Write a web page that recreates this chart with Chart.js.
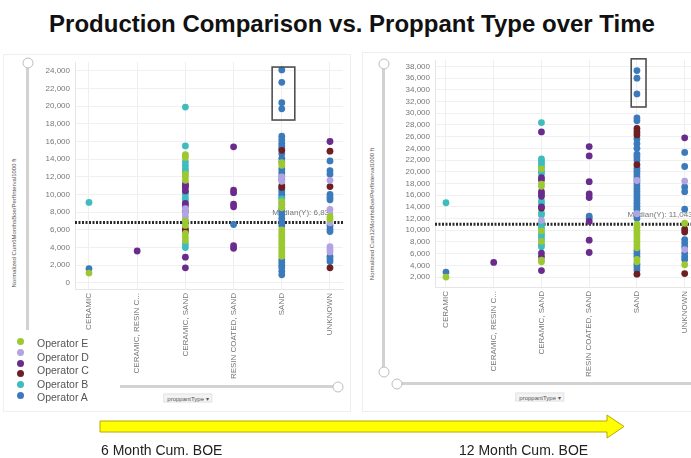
<!DOCTYPE html>
<html>
<head>
<meta charset="utf-8">
<script src="https://cdn.jsdelivr.net/npm/chart.js@4.4.1/dist/chart.umd.min.js"></script>
<style>
  body { margin: 0; width: 691px; height: 458px; overflow: hidden; background: #fff; position: relative; font-family: "Liberation Sans", Arial, sans-serif; }
  .abs { position: absolute; }
  #title { left: 352px; top: 12px; transform: translateX(-50%); font-weight: bold; font-size: 24px; line-height: 1; color: #111; white-space: nowrap; }
  .panel { border: 1px solid #efefef; }
  .chartBox { position: absolute; }
  .vline { position: absolute; width: 3px; background: #d2d2d2; }
  .hline { position: absolute; height: 3px; background: #d2d2d2; }
  .knob { position: absolute; width: 9px; height: 9px; border: 1.5px solid #bdbdbd; border-radius: 50%; background: #fff; transform: translate(-50%, -50%); }
  .ytitle { position: absolute; font-size: 6px; color: #555; white-space: nowrap; transform: translate(-50%, -50%) rotate(-90deg); }
  .xtitle { position: absolute; font-size: 6px; color: #555; background: #f3f3f3; border: 1px solid #e4e4e4; padding: 0 3px; transform: translate(-50%, -50%); white-space: nowrap; }
  #legendDots { left: 17px; top: 338px; }
  #legendDots div { width: 7px; height: 7px; border-radius: 50%; margin-bottom: 3.8px; }
  #legendLabels { left: 37px; top: 337px; font-size: 10.5px; line-height: 13.5px; color: #555; }
  .caption { position: absolute; top: 443px; font-size: 14px; line-height: 1; color: #222; white-space: nowrap; }
</style>
</head>
<body>
<div id="title" class="abs">Production Comparison vs. Proppant Type over Time</div>

<div class="abs panel" style="left:3px;top:54px;width:346px;height:356px;"></div>
<div class="abs panel" style="left:362px;top:52px;width:340px;height:358px;"></div>

<div class="chartBox" style="left:30px;top:50px;width:320px;height:334px;"><canvas id="chart6"></canvas></div>
<div class="chartBox" style="left:390px;top:48px;width:320px;height:334px;"><canvas id="chart12"></canvas></div>

<!-- range sliders of the original tool -->
<div class="vline" style="left:26px;top:63px;height:267px;"></div>
<div class="knob" style="left:27.5px;top:63px;"></div>
<div class="hline" style="left:120px;top:385px;width:218px;"></div>
<div class="knob" style="left:338px;top:386.5px;"></div>

<div class="vline" style="left:382px;top:64px;height:308px;"></div>
<div class="knob" style="left:383.5px;top:64px;"></div>
<div class="knob" style="left:383.5px;top:372px;"></div>
<div class="hline" style="left:397px;top:382px;width:300px;"></div>
<div class="knob" style="left:397px;top:383.5px;"></div>

<div class="ytitle" style="left:14px;top:223px;">Normalized Cum6MonthsBoe/PerfInterval1000 ft</div>
<div class="ytitle" style="left:372px;top:214px;">Normalized Cum12MonthsBoe/PerfInterval1000 ft</div>
<div class="xtitle" style="left:188px;top:398px;">proppantType &#9662;</div>
<div class="xtitle" style="left:540px;top:397px;">proppantType &#9662;</div>

<div id="legendDots" class="abs"></div>
<div id="legendLabels" class="abs"></div>

<svg class="abs" style="left:0;top:0;" width="691" height="458">
  <polygon points="100,421 607,421 607,415 624,426.5 607,438 607,432 100,432" fill="#ffff00" stroke="#b8a800" stroke-width="1"/>
</svg>
<div class="caption" style="left:101px;">6 Month Cum. BOE</div>
<div class="caption" style="left:459px;">12 Month Cum. BOE</div>

<script>
const categories = ['CERAMIC', 'CERAMIC, RESIN C...', 'CERAMIC, SAND', 'RESIN COATED, SAND', 'SAND', 'UNKNOWN'];

const operatorNames = ['Operator E', 'Operator D', 'Operator (other)', 'Operator C', 'Operator B', 'Operator A'];
const operatorColors = ['#9cc832', '#b4a3e2', '#6a2c8c', '#6e1f24', '#3fbcbd', '#3c7bbb'];

const legendLabels = ['Operator E', 'Operator D', 'Operator C', 'Operator B', 'Operator A'];

const yTicks6 = [0, 2000, 4000, 6000, 8000, 10000, 12000, 14000, 16000, 18000, 20000, 22000, 24000];
const yTicks12 = [2000, 4000, 6000, 8000, 10000, 12000, 14000, 16000, 18000, 20000, 22000, 24000, 26000, 28000, 30000, 32000, 34000, 36000, 38000];

// 6 month cum BOE, one inner list per category
const m6E = [[1100], [], [14500, 14200, 12300, 12000, 11600, 7000, 6500, 5600, 5200, 4800], [], [13600, 13300, 9200, 8800, 8500, 6000, 5700, 5400, 5100, 4800, 4500, 4200, 3900, 3600, 3300, 3000], [7500, 7200]];
const m6D = [[], [], [8400, 7900, 7500, 7100], [], [12000, 11500, 9100], [11600, 8300, 6800, 4100, 3800, 3500]];
const m6P = [[], [3600], [11200, 10800, 10400, 9000, 8700, 2900, 1700], [15400, 10500, 10200, 8900, 8600, 4200, 3900], [], [16000]];
const m6C = [[], [], [11000, 6100, 5800], [], [15000, 11000, 10800], [14900, 10900, 1700]];
const m6B = [[9100], [], [19900, 15500, 13700, 13300, 12900, 12600, 10000, 9600, 9300, 4400, 4000], [], [9500, 8900], []];
const m6A = [[1600], [], [10300, 8100, 6800], [6600], [24100, 22700, 20400, 19700, 16600, 16200, 15800, 15500, 15200, 14600, 14100, 13700, 12900, 12500, 12100, 11700, 10600, 10300, 10000, 9700, 8400, 8100, 7700, 7300, 6900, 6500, 2600, 2300, 2000, 1700, 1300, 900], [13800, 12700, 12300, 10000, 9700, 9400, 6500, 6100, 5800, 3000, 2700, 2400]];

// 12 month cum BOE
const m12E = [[2000], [], [20500, 17900, 17500, 9900, 8100, 4900, 4600], [], [11000, 10500, 10000, 9500, 9000, 8500, 8000, 7500, 7000, 5000, 4600], [11200, 4100]];
const m12D = [[], [], [11700], [], [18500, 12800], [18400, 6700]];
const m12P = [[], [4500], [26800, 19000, 18600, 16600, 16200, 15800, 14000, 6100, 5500, 3100], [24300, 22700, 18300, 16200, 15600, 11500, 8300, 6200], [], [25800]];
const m12C = [[], [], [13800], [], [27400, 26800, 26300, 21200, 2500], [10200, 9700, 2600]];
const m12B = [[14700], [], [28400, 22200, 21800, 21400, 20900, 20100, 19700, 15000, 14600, 13000, 12600, 11200, 10800, 10300, 9400, 9000, 8500, 7600, 7200], [], [12900], []];
const m12A = [[2850], [], [], [12400, 12000], [37300, 36000, 33300, 29200, 28700, 25600, 24800, 24000, 23000, 22500, 22000, 20600, 20100, 19600, 19100, 18600, 18100, 17600, 17100, 16600, 16100, 15600, 15100, 14600, 14100, 13600, 12500, 12000, 6500, 6000, 5500, 4200, 3700, 3200], [23300, 20900, 17400, 16600, 13600, 8400, 7800, 7200, 6100, 5500, 5000]];

const median6 = 6834;
const median12 = 11043;

// legend
const dotsBox = document.getElementById('legendDots');
operatorColors.forEach(c => {
    const d = document.createElement('div');
    d.style.background = c;
    dotsBox.appendChild(d);
});
document.getElementById('legendLabels').innerHTML = legendLabels.join('<br>');

function toPoints(byCategory) {
    return byCategory.flatMap((vals, i) => vals.map(v => ({ x: i, y: v })));
}

function overlay(median, label, box) {
    return {
        id: 'overlay',
        beforeDatasetsDraw(chart) {
            const { ctx, chartArea, scales: { x, y } } = chart;
            const py = y.getPixelForValue(median);
            ctx.save();
            ctx.strokeStyle = '#2a2a2a';
            ctx.lineWidth = 3;
            ctx.setLineDash([2, 1.5]);
            ctx.beginPath();
            ctx.moveTo(chartArea.left, py);
            ctx.lineTo(chartArea.right, py);
            ctx.stroke();
            ctx.setLineDash([]);
            ctx.fillStyle = '#777';
            ctx.font = '8px "Liberation Sans"';
            ctx.fillText(label, x.getPixelForValue(3.8), py - 7);
            ctx.restore();
        },
        afterDatasetsDraw(chart) {
            const { ctx, scales: { x, y } } = chart;
            const x0 = x.getPixelForValue(box[0]);
            const x1 = x.getPixelForValue(box[1]);
            const y0 = y.getPixelForValue(box[2]);
            const y1 = y.getPixelForValue(box[3]);
            ctx.save();
            ctx.strokeStyle = '#505050';
            ctx.lineWidth = 1.6;
            ctx.strokeRect(x0, y0, x1 - x0, y1 - y0);
            ctx.restore();
        }
    };
}

function buildChart(id, series, xMin, xMax, yMin, yMax, yTicks, median, label, box) {
    const datasets = series.map((s, i) => ({
        label: operatorNames[i],
        data: toPoints(s),
        backgroundColor: operatorColors[i],
        borderWidth: 0,
        pointRadius: 3.4
    }));

    new Chart(document.getElementById(id), {
        type: 'scatter',
        data: { datasets },
        options: {
            responsive: true,
            maintainAspectRatio: false,
            animation: false,
            layout: { padding: { top: 12, right: id === 'chart6' ? 7 : 11 } },
            scales: {
                x: {
                    type: 'linear',
                    min: xMin,
                    max: xMax,
                    afterFit: scale => { scale.height = 95; },
                    afterBuildTicks: scale => { scale.ticks = categories.map((c, i) => ({ value: i })); },
                    grid: { color: '#efefef', drawTicks: false },
                    border: { color: '#e6e6e6' },
                    ticks: {
                        autoSkip: false,
                        minRotation: 90,
                        maxRotation: 90,
                        padding: 4,
                        color: '#777',
                        font: { size: 8, family: 'Liberation Sans' },
                        callback: v => categories[v]
                    }
                },
                y: {
                    min: yMin,
                    max: yMax,
                    afterFit: scale => { scale.width = 45; },
                    afterBuildTicks: scale => { scale.ticks = yTicks.map(v => ({ value: v })); },
                    grid: { color: '#f0f0f0', drawTicks: false },
                    border: { color: '#e6e6e6' },
                    ticks: {
                        autoSkip: false,
                        padding: 5,
                        color: '#777',
                        font: { size: 8, family: 'Liberation Sans' },
                        callback: v => v.toLocaleString('en-US')
                    }
                }
            },
            plugins: {
                legend: { display: false },
                tooltip: { enabled: false }
            }
        },
        plugins: [overlay(median, label, box)]
    });
}

buildChart('chart6', [m6E, m6D, m6P, m6C, m6B, m6A], -0.29, 5.27, -700, 25000, yTicks6,
    median6, 'Median(Y): 6,834', [3.8, 4.27, 24430, 18430]);
buildChart('chart12', [m12E, m12D, m12P, m12C, m12B, m12A], -0.23, 5.3, 300, 39100, yTicks12,
    median12, 'Median(Y): 11,043', [3.88, 4.19, 39300, 31070]);
</script>
</body>
</html>
